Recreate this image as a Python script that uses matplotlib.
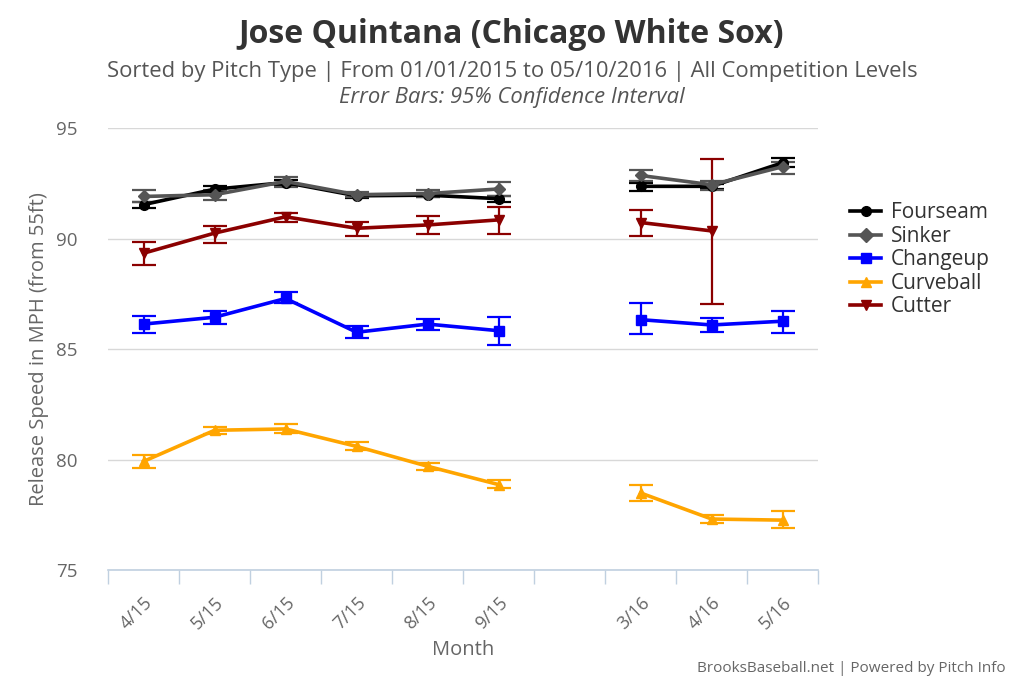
import numpy as np
import matplotlib
matplotlib.use("Agg")
import matplotlib.pyplot as plt

nan = np.nan
months = ["4/15", "5/15", "6/15", "7/15", "8/15", "9/15", "", "3/16", "4/16", "5/16"]

pitch_names = ["Fourseam", "Sinker", "Changeup", "Curveball", "Cutter"]

fourseam = [91.55, 92.25, 92.55, 91.95, 91.98, 91.82, nan, 92.38, 92.38, 93.45]
fourseam_lo = [91.42, 92.12, 92.42, 91.85, 91.88, 91.68, nan, 92.18, 92.28, 93.27]
fourseam_hi = [91.68, 92.38, 92.68, 92.05, 92.08, 91.96, nan, 92.54, 92.48, 93.65]

sinker = [91.92, 92.0, 92.6, 92.0, 92.05, 92.26, nan, 92.87, 92.45, 93.27]
sinker_lo = [91.67, 91.75, 92.35, 91.88, 91.9, 91.95, nan, 92.6, 92.22, 92.95]
sinker_hi = [92.2, 92.22, 92.82, 92.1, 92.2, 92.58, nan, 93.1, 92.6, 93.5]

changeup = [86.14, 86.45, 87.3, 85.77, 86.14, 85.84, nan, 86.34, 86.1, 86.27]
changeup_lo = [85.74, 86.14, 87.08, 85.51, 85.89, 85.2, nan, 85.68, 85.77, 85.75]
changeup_hi = [86.52, 86.75, 87.58, 86.04, 86.37, 86.45, nan, 87.08, 86.43, 86.75]

curveball = [79.92, 81.33, 81.39, 80.6, 79.7, 78.87, nan, 78.49, 77.31, 77.26]
curveball_lo = [79.62, 81.17, 81.21, 80.42, 79.55, 78.71, nan, 78.14, 77.12, 76.89]
curveball_hi = [80.23, 81.48, 81.61, 80.78, 79.85, 79.06, nan, 78.83, 77.5, 77.67]

cutter = [89.35, 90.26, 91.0, 90.48, 90.63, 90.86, nan, 90.74, 90.36, nan]
cutter_lo = [88.82, 89.83, 90.77, 90.14, 90.21, 90.21, nan, 90.11, 87.04, nan]
cutter_hi = [89.88, 90.56, 91.19, 90.75, 91.04, 91.43, nan, 91.29, 93.6, nan]

series = [
    ("Fourseam", fourseam, fourseam_lo, fourseam_hi, "#000000", "o", 7),
    ("Sinker", sinker, sinker_lo, sinker_hi, "#555555", "D", 6),
    ("Changeup", changeup, changeup_lo, changeup_hi, "#0000FF", "s", 7),
    ("Curveball", curveball, curveball_lo, curveball_hi, "#FFA500", "^", 7),
    ("Cutter", cutter, cutter_lo, cutter_hi, "#8B0000", "v", 7),
]

plt.rcParams['font.family'] = ['Open Sans', 'DejaVu Sans']

fig = plt.figure(figsize=(10.24, 6.83), dpi=100)
ax = fig.add_axes([0.1055, 0.1654, 0.6935, 0.6465])

x = np.arange(len(months))
for name, vals, lo, hi, col, mk, ms in series:
    v = np.array(vals, dtype=float)
    l = np.array(lo, dtype=float)
    h = np.array(hi, dtype=float)
    err = np.vstack([v - l, h - v])
    ax.errorbar(x, v, yerr=err, fmt='none', ecolor=col, elinewidth=1.6,
                capsize=8.5, capthick=1.6, zorder=3)
    ax.plot(x, v, color=col, lw=2.6, marker=mk, ms=ms, label=name, zorder=4)

ax.set_xlim(-0.5, len(months) - 0.5)
ax.set_ylim(75, 95)
ax.set_yticks([75, 80, 85, 90, 95])
ax.yaxis.grid(True, color="#D8D8D8", lw=1)
ax.set_axisbelow(True)
ax.tick_params(axis='y', length=0, labelsize=13.5, labelcolor="#666666", pad=22)

ax.set_xticks(x)
ax.set_xticklabels(months, rotation=45, ha='right', rotation_mode='anchor')
ax.tick_params(axis='x', which='major', length=0, labelsize=13, labelcolor="#666666", pad=17)
ax.set_xticks(np.arange(-0.5, len(months)), minor=True)
ax.tick_params(axis='x', which='minor', length=10, color="#C0D0E0", width=1)

for s in ['top', 'right', 'left']:
    ax.spines[s].set_visible(False)
ax.spines['bottom'].set_color("#C0D0E0")
ax.spines['bottom'].set_linewidth(1.2)

ax.set_xlabel("Month", fontsize=14.5, color="#666666", labelpad=5)
ax.set_ylabel("Release Speed in MPH (from 55ft)", fontsize=14.5, color="#666666", labelpad=5)

fig.text(0.499, 0.950, "Jose Quintana (Chicago White Sox)", ha='center', va='center',
         fontsize=23, fontweight='bold', color="#333333")
fig.text(0.5, 0.896, "Sorted by Pitch Type | From 01/01/2015 to 05/10/2016 | All Competition Levels",
         ha='center', va='center', fontsize=15.8, color="#555555")
fig.text(0.5, 0.857, "Error Bars: 95% Confidence Interval", ha='center', va='center',
         fontsize=15.8, style='italic', color="#555555")

leg = fig.legend(loc='upper left', bbox_to_anchor=(0.812, 0.731), frameon=False,
                 fontsize=15, handlelength=1.5, handletextpad=0.45, labelspacing=0.12,
                 labelcolor="#333333")
for h in leg.legend_handles:
    h.set_markersize(7)

fig.text(0.982, 0.021, "BrooksBaseball.net | Powered by Pitch Info", ha='right', va='center',
         fontsize=11, color="#666666")

fig.savefig("out.png", dpi=100)
